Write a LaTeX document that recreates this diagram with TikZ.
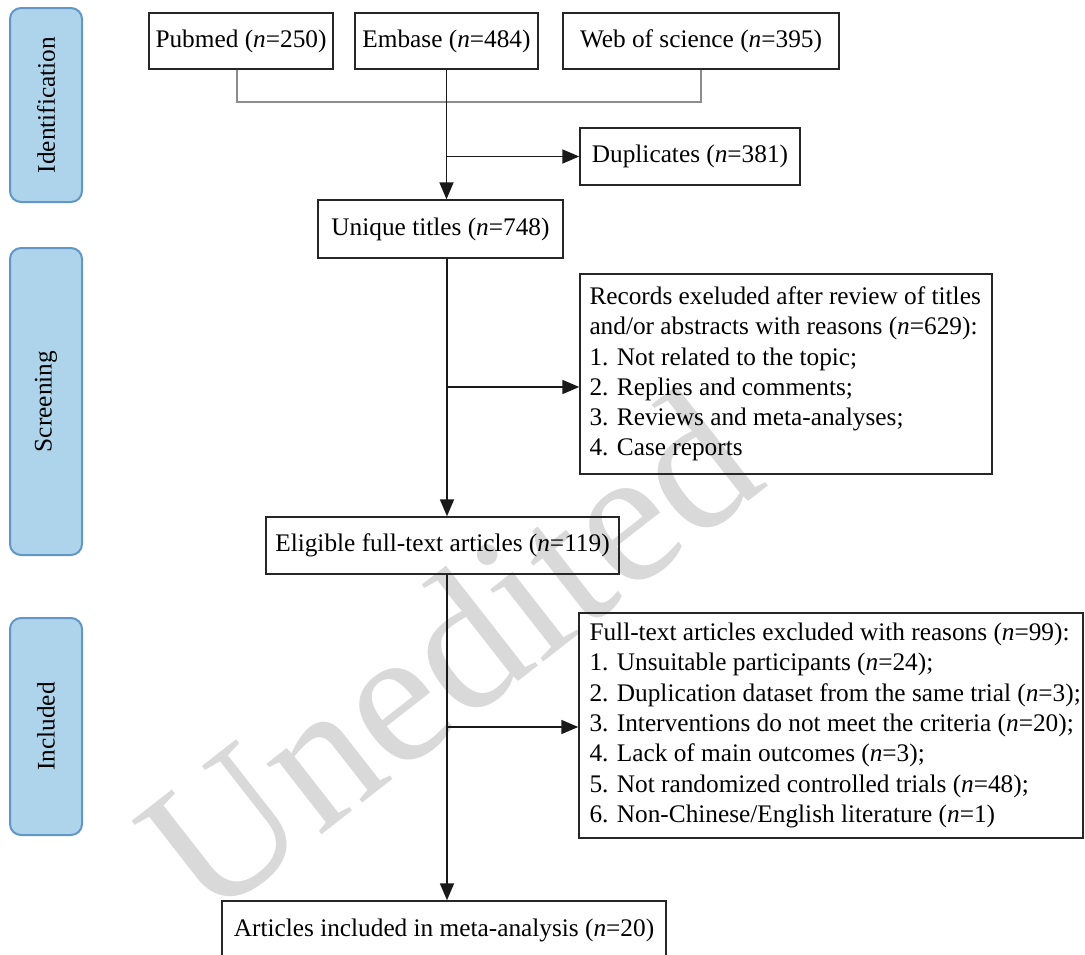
\documentclass[tikz,border=0pt]{standalone}
\usepackage{fontspec}
\setmainfont{Liberation Serif}
\usetikzlibrary{arrows.meta}
\definecolor{sidefill}{RGB}{174,212,236}
\definecolor{sidedraw}{RGB}{98,150,197}
\definecolor{wmgray}{RGB}{217,217,217}
\begin{document}
\begin{tikzpicture}[x=1pt,y=-1pt,
  font=\fontsize{25.3}{30.3}\selectfont,
  box/.style={draw=black!85, line width=1.4pt, inner sep=0pt},
  side/.style={draw=sidedraw, fill=sidefill, line width=2pt, rounded corners=11pt, rotate=90, inner sep=0pt, minimum height=72pt},
  flow/.style={draw=black!90, line width=1.8pt},
  tip/.style={-{Triangle[length=17pt,width=14pt]}},
  bracket/.style={draw=black!45, line width=1.2pt},
  wmark/.style={text=wmgray, rotate=38, font=\fontsize{195}{195}\selectfont, inner sep=0pt}]
\useasboundingbox (0,0) rectangle (1085,954);
% watermark
\node[wmark] (wm) at (448,652) {Unedited};
% stage labels
\node[side, minimum width=194pt] (sid) at (46,105) {Identification};
\node[side, minimum width=307pt] (scr) at (46,401.5) {Screening};
\node[side, minimum width=217pt] (inc) at (46,726.5) {Included};
% boxes
\node[box, minimum width=184pt, minimum height=56pt] (pub) at (241,41) {Pubmed (\textit{n}=250)};
\node[box, minimum width=183pt, minimum height=56pt] (emb) at (446.5,41) {Embase (\textit{n}=484)};
\node[box, minimum width=276pt, minimum height=56pt] (web) at (701,41) {Web of science (\textit{n}=395)};
\node[box, minimum width=220pt, minimum height=57pt] (dup) at (690,156.5) {Duplicates (\textit{n}=381)};
\node[box, minimum width=245pt, minimum height=58pt] (uni) at (440.5,229) {Unique titles (\textit{n}=748)};
\node[box, minimum width=412pt, minimum height=200pt] (rec) at (786,374) {};
\node[anchor=west, align=left, inner sep=0pt] (rect) at ([xshift=10pt]rec.west) {Records exeluded after review of titles\\and/or abstracts with reasons (\textit{n}=629):\\1. Not related to the topic;\\2. Replies and comments;\\3. Reviews and meta-analyses;\\4. Case reports};
\node[box, minimum width=353pt, minimum height=57pt] (eli) at (442.5,545.5) {Eligible full-text articles (\textit{n}=119)};
\node[box, minimum width=504pt, minimum height=225pt] (ful) at (831,725.5) {};
\node[anchor=west, align=left, inner sep=0pt] (fult) at ([xshift=11pt]ful.west) {Full-text articles excluded with reasons (\textit{n}=99):\\1. Unsuitable participants (\textit{n}=24);\\2. Duplication dataset from the same trial (\textit{n}=3);\\3. Interventions do not meet the criteria (\textit{n}=20);\\4. Lack of main outcomes (\textit{n}=3);\\5. Not randomized controlled trials (\textit{n}=48);\\6. Non-Chinese/English literature (\textit{n}=1)};
\node[box, minimum width=444pt, minimum height=58pt] (art) at (444,930) {Articles included in meta-analysis (\textit{n}=20)};
% bracket
\coordinate (bl) at (237,102);
\coordinate (br) at (701,102);
\draw[bracket] (bl |- pub.south) -- (bl) -- (br) -- (br |- web.south);
% main flow
\coordinate (j1) at (emb.south |- dup.west);
\coordinate (j2) at (447,387);
\coordinate (j3) at (447,727);
\draw[flow, tip] (emb.south) -- (emb.south |- uni.north);
\draw[flow, tip] (j1) -- (dup.west);
\draw[flow, tip] (j2 |- uni.south) -- (j2 |- eli.north);
\draw[flow, tip] (j2) -- (j2 -| rec.west);
\draw[flow, tip] (j3 |- eli.south) -- (j3 |- art.north);
\draw[flow, tip] (j3) -- (j3 -| ful.west);
\end{tikzpicture}
\end{document}
